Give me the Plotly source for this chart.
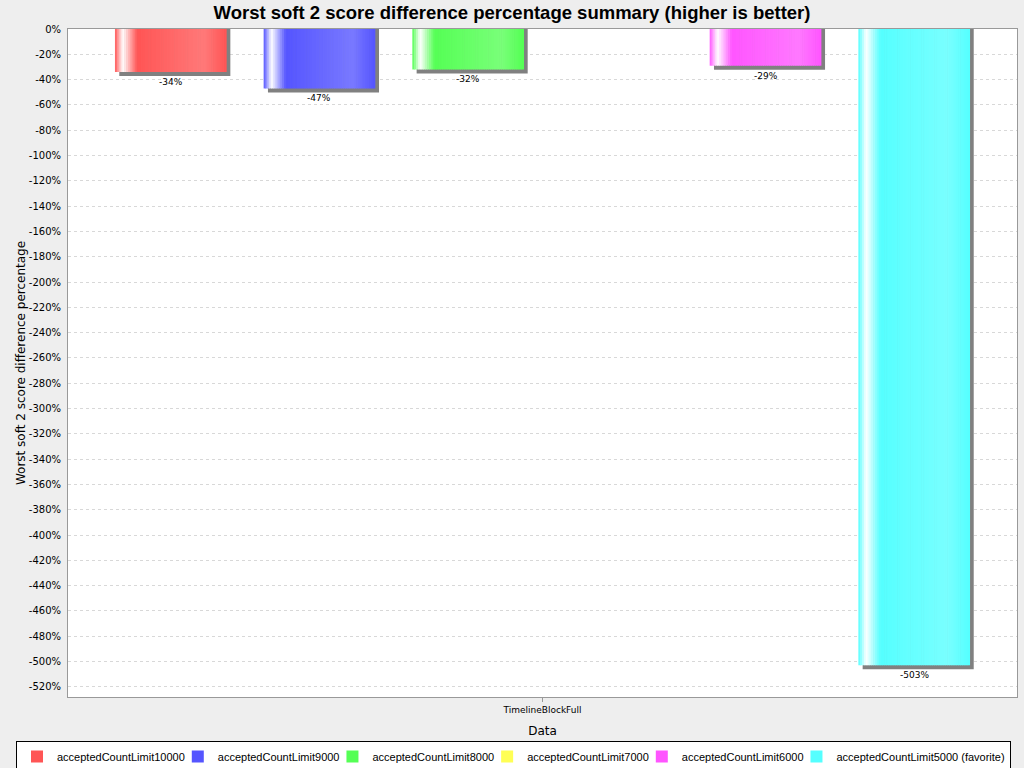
import plotly.graph_objects as go

# ---------------- data ----------------
category = "TimelineBlockFull"
series_names = [
    "acceptedCountLimit10000",
    "acceptedCountLimit9000",
    "acceptedCountLimit8000",
    "acceptedCountLimit7000",
    "acceptedCountLimit6000",
    "acceptedCountLimit5000 (favorite)",
]
values = [-34, -47, -32, None, -29, -503]
base_colors = ["#FF5555", "#5555FF", "#55FF55", "#FFFF55", "#FF55FF", "#55FFFF"]
y_tick_values = list(range(0, -521, -20))
y_tick_labels = [f"{v}%" for v in y_tick_values]

# ---------------- layout parameters ----------------
W, H = 1024, 768
margin_l, margin_r, margin_t, margin_b = 68, 7, 29, 71
plot_w = W - margin_l - margin_r
plot_h = H - margin_t - margin_b
y_min, y_max = -528, 0
bargap = 0.06
bargroupgap = 0.253
n = len(series_names)
slot = (1 - bargap) / n
bar_w = slot * (1 - bargroupgap)
px_x = 1.0 / plot_w                        # one pixel in x data units
px_y = (y_max - y_min) / plot_h            # one pixel in y data units
shadow_dx, shadow_dy = 4 * px_x, 4 * px_y
N_STRIPS = 60
LEGEND_FONT = 11

# approximate Liberation Sans (Arial metric) advance widths, per 1000 em
_AW = dict(zip("abcdefghijklmnopqrstuvwxyz",
               [556, 556, 500, 556, 556, 278, 556, 556, 222, 222, 500, 222, 833,
                556, 556, 556, 556, 333, 500, 278, 556, 500, 722, 500, 500, 500]))
_AW.update({"C": 722, "L": 556, " ": 278, "(": 333, ")": 333})
_AW.update({d: 556 for d in "0123456789"})


def text_w(s, size):
    return sum(_AW.get(ch, 556) for ch in s) * size / 1000.0


def hex2rgb(h):
    h = h.lstrip("#")
    return tuple(int(h[i:i + 2], 16) for i in (0, 2, 4))


def brighter(rgb):
    return tuple(min(255, int(c / 0.7)) for c in rgb)


def lerp(a, b, t):
    return tuple(round(a[i] + (b[i] - a[i]) * t) for i in range(3))


def grad_color(c0, frac):
    white = (255, 255, 255)
    c1 = brighter(c0)
    g1, g2, g3 = 0.07, 0.20, 0.80
    if frac < g1:
        c = lerp(c0, white, frac / g1)
    elif frac < g2:
        c = lerp(white, c0, (frac - g1) / (g2 - g1))
    elif frac < g3:
        c = lerp(c0, c1, (frac - g2) / (g3 - g2))
    else:
        c = lerp(c1, c0, (frac - g3) / (1 - g3))
    return "rgb(%d,%d,%d)" % c


fig = go.Figure()

annotations = []
for i, (name, v, col) in enumerate(zip(series_names, values, base_colors)):
    left = -0.5 + bargap / 2 + i * slot + slot * bargroupgap / 2
    center = left + bar_w / 2
    if v is not None:
        # shadow
        fig.add_trace(go.Bar(
            x=[center + shadow_dx], y=[v - shadow_dy], width=[bar_w],
            marker=dict(color="#808080", line=dict(width=0)),
            showlegend=False, hoverinfo="skip"))
        # gradient body drawn as thin strips
        sw = bar_w / N_STRIPS
        xs = [left + sw * (k + 0.5) for k in range(N_STRIPS)]
        cols = [grad_color(hex2rgb(col), (k + 0.5) / N_STRIPS) for k in range(N_STRIPS)]
        fig.add_trace(go.Bar(
            x=xs, y=[v] * N_STRIPS, width=[sw * 1.35] * N_STRIPS,
            marker=dict(color=cols, line=dict(width=0)),
            showlegend=False, name=name,
            hovertemplate=f"{name}: {v}%<extra></extra>"))
        annotations.append(dict(
            x=center, y=v - shadow_dy, xref="x", yref="y",
            text=f"{v}%", showarrow=False, yanchor="top", yshift=1,
            font=dict(family="DejaVu Sans", size=9, color="#000000")))
    # legend entry (compact spacing between entries)
    lw = text_w(name, LEGEND_FONT)
    if i < n - 1:
        lw -= 12
    fig.add_trace(go.Bar(
        x=[None], y=[None], name=name,
        marker=dict(color=col, line=dict(width=0)),
        legendwidth=lw, showlegend=True))

fig.update_layout(
    width=W, height=H,
    barmode="overlay",
    paper_bgcolor="#EEEEEE",
    plot_bgcolor="#FFFFFF",
    margin=dict(l=margin_l, r=margin_r, t=margin_t, b=margin_b, autoexpand=False),
    font=dict(family="Liberation Sans", size=12, color="#000000"),
    title=dict(
        text="<b>Worst soft 2 score difference percentage summary (higher is better)</b>",
        x=0.5, xanchor="center", xref="container", y=1 - 13 / H, yanchor="middle",
        font=dict(family="Liberation Sans", size=18.5, color="#000000")),
    xaxis=dict(
        range=[-0.5, 0.5], tickvals=[0], ticktext=[category],
        showgrid=False, zeroline=False,
        ticks="outside", ticklen=4, tickcolor="#999999",
        tickfont=dict(family="DejaVu Sans", size=9),
        showline=True, linecolor="#999999", linewidth=1, mirror=True,
        title=dict(text="Data", font=dict(family="DejaVu Sans", size=12), standoff=12),
        fixedrange=True),
    yaxis=dict(
        range=[y_min, y_max], tickvals=y_tick_values, ticktext=y_tick_labels,
        showgrid=True, gridcolor="#D8D8D8", griddash="3px,3px", gridwidth=1,
        zeroline=False, ticks="", ticklabelstandoff=4,
        tickfont=dict(family="DejaVu Sans", size=10),
        showline=True, linecolor="#999999", linewidth=1, mirror=True,
        title=dict(text="Worst soft 2 score difference percentage",
                   font=dict(family="DejaVu Sans", size=12), standoff=0),
        fixedrange=True),
    legend=dict(
        orientation="h", xref="paper", yref="paper",
        x=(16 - margin_l) / plot_w, xanchor="left",
        y=-(741 - (H - margin_b)) / plot_h, yanchor="top",
        bgcolor="#FFFFFF", bordercolor="#000000", borderwidth=1,
        font=dict(family="Liberation Sans", size=LEGEND_FONT),
        itemwidth=30, tracegroupgap=0, traceorder="normal"),
    annotations=annotations,
    showlegend=True,
)

fig.write_html("out.html")
